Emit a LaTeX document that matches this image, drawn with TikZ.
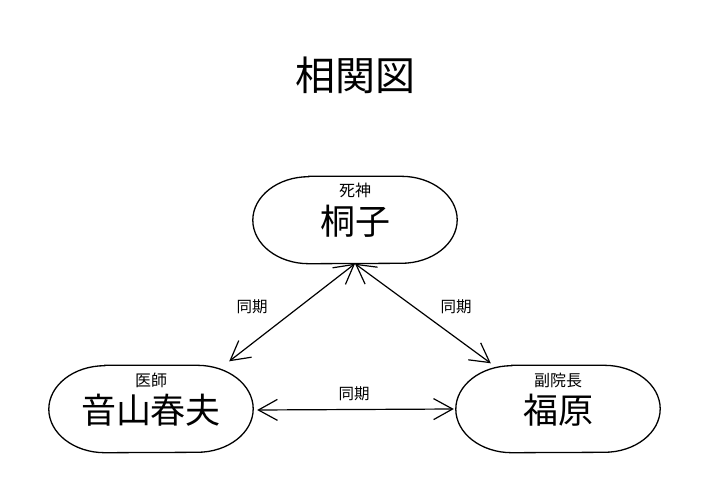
\documentclass[tikz,border=0pt]{standalone}
\usepackage{fontspec}
\setmainfont{Noto Sans CJK JP}
\usetikzlibrary{arrows.meta}
\tikzset{
  box/.style={minimum width=204pt, minimum height=87pt, inner sep=0pt},
  boxline/.style={line width=1.3pt},
  rolelbl/.style={font=\fontsize{16}{18}\selectfont, inner sep=0pt},
  personlbl/.style={font=\fontsize{35}{40}\selectfont, inner sep=0pt},
  rellbl/.style={font=\fontsize{15.5}{17}\selectfont, inner sep=0pt},
  link/.style={line width=1.2pt, {Straight Barb[length=19pt,width=21pt]}-{Straight Barb[length=19pt,width=21pt]}}
}
\newcommand\mycapsule[1]{%
  \draw[boxline] ([xshift=56pt]#1.north west) -- ([xshift=-56pt]#1.north east)
    arc[start angle=90,end angle=-90,x radius=56pt,y radius=43.5pt]
    -- ([xshift=56pt]#1.south west)
    arc[start angle=270,end angle=90,x radius=56pt,y radius=43.5pt] -- cycle;}
\begin{document}
\begin{tikzpicture}[x=1pt,y=-1pt]
\useasboundingbox (0,0) rectangle (710,503);
\node[font=\fontsize{40}{46}\selectfont, inner sep=0pt] (title) at (355,75) {相関図};

\node[box] (kiri) at (355,220) {};
\mycapsule{kiri}
\node[rolelbl] (kirirole) at (355,190) {死神};
\node[personlbl] (kiriname) at (355,221) {桐子};

\node[box] (oto) at (151,409) {};
\mycapsule{oto}
\node[rolelbl] (otorole) at (151,380) {医師};
\node[personlbl] (otoname) at (151,410) {音山春夫};

\node[box] (fuku) at (558,409) {};
\mycapsule{fuku}
\node[rolelbl] (fukurole) at (558,380) {副院長};
\node[personlbl] (fukuname) at (558,410) {福原};

\draw[link] (kiri.south) -- ([xshift=-24pt,yshift=4pt]oto.north east);
\draw[link] (kiri.south) -- ([xshift=35pt,yshift=2pt]fuku.north west);
\draw[link] ([xshift=4pt,yshift=-1pt]oto.east) -- ([xshift=-2pt]fuku.west);

\node[rellbl] (r1) at (252,307) {同期};
\node[rellbl] (r2) at (456,307) {同期};
\node[rellbl] (r3) at (354,394) {同期};
\end{tikzpicture}
\end{document}
